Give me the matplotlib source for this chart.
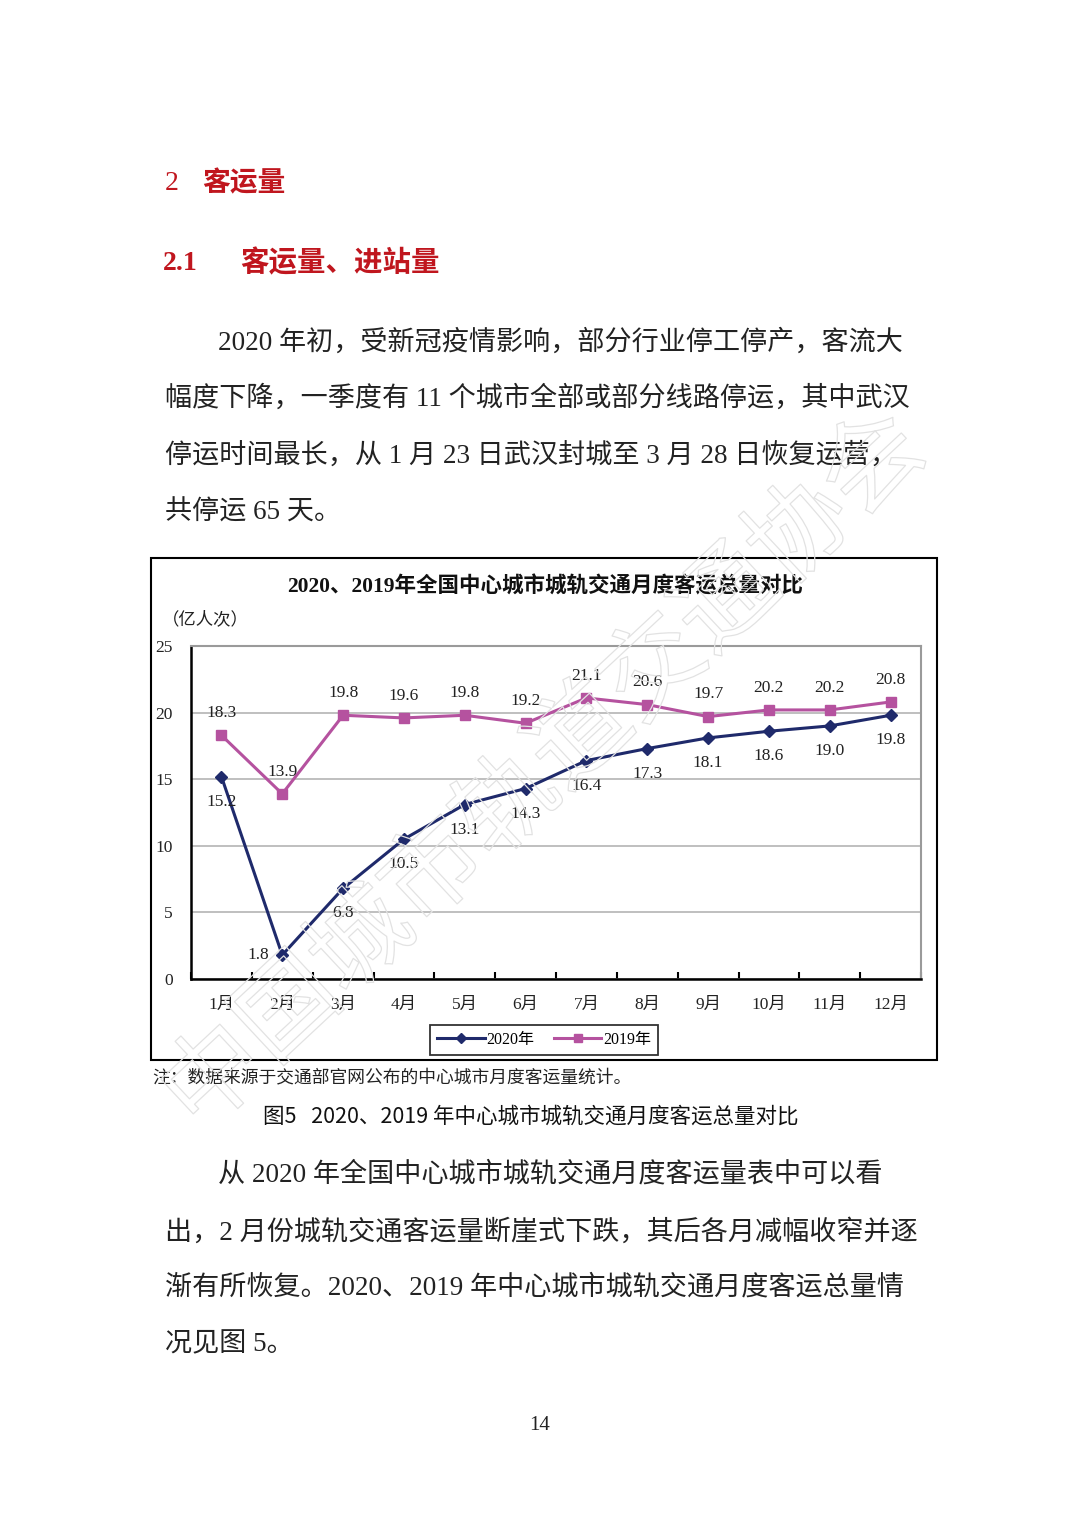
import matplotlib
matplotlib.use('Agg')
import matplotlib.pyplot as plt
import matplotlib.patheffects as pe
from matplotlib.patches import Rectangle
import numpy as np

# 月度客运总量（亿人次）
months = ['1月', '2月', '3月', '4月', '5月', '6月', '7月', '8月', '9月', '10月', '11月', '12月']
v2020 = [15.2, 1.8, 6.8, 10.5, 13.1, 14.3, 16.4, 17.3, 18.1, 18.6, 19.0, 19.8]
v2019 = [18.3, 13.9, 19.8, 19.6, 19.8, 19.2, 21.1, 20.6, 19.7, 20.2, 20.2, 20.8]
yticks = [0, 5, 10, 15, 20, 25]

para1 = ['2020 年初，受新冠疫情影响，部分行业停工停产，客流大',
         '幅度下降，一季度有 11 个城市全部或部分线路停运，其中武汉',
         '停运时间最长，从 1 月 23 日武汉封城至 3 月 28 日恢复运营，',
         '共停运 65 天。']
para2 = ['从 2020 年全国中心城市城轨交通月度客运量表中可以看',
         '出，2 月份城轨交通客运量断崖式下跌，其后各月减幅收窄并逐',
         '渐有所恢复。2020、2019 年中心城市城轨交通月度客运总量情',
         '况见图 5。']

W, H = 1080, 1527
SERIF = ['Liberation Serif', 'Noto Sans CJK SC']
CJK = ['Noto Sans CJK SC', 'DejaVu Sans']
RED = '#c0161e'
C20 = '#1f2a6b'
C19 = '#b5529f'


def fx(x):
    return x / W


def fy(y):
    return 1 - y / H


fig = plt.figure(figsize=(10.8, 15.27), dpi=100)

# 标题
fig.text(fx(165), fy(183), '2', family=SERIF, fontsize=20, color=RED, va='center')
fig.text(fx(202), fy(183), '客运量', family=CJK, fontsize=20, color=RED, va='center', weight='bold')
fig.text(fx(163), fy(263), '2.1', family=SERIF, fontsize=20, color=RED, va='center', weight='bold')
fig.text(fx(240), fy(263), '客运量、进站量', family=CJK, fontsize=20.5, color=RED, va='center', weight='bold')

# 正文
ys1 = [343, 399, 456, 513]
for i, line in enumerate(para1):
    x0 = 218 if i == 0 else 165
    fig.text(fx(x0), fy(ys1[i]), line, family=SERIF, fontsize=19.5, color='#222222', va='center')

ys2 = [1175, 1232, 1288, 1345]
for i, line in enumerate(para2):
    x0 = 218 if i == 0 else 165
    fig.text(fx(x0), fy(ys2[i]), line, family=SERIF, fontsize=19.5, color='#222222', va='center')

# 图框
fig.add_artist(Rectangle((fx(151), fy(1060)), (937 - 151) / W, (1060 - 558) / H,
                         transform=fig.transFigure, fill=False, ec='black', lw=1.5))
fig.text(fx(545), fy(587), '2020、2019年全国中心城市城轨交通月度客运总量对比', family=SERIF,
         fontsize=15.5, weight='bold', ha='center', va='center', color='#111111')
fig.text(fx(162), fy(620), '（亿人次）', family=SERIF, fontsize=12.5, ha='left', va='center', color='#222222')

ax = fig.add_axes([fx(191), fy(979), (921 - 191) / W, (979 - 646) / H])
x = np.arange(1, len(months) + 1)
ax.set_xlim(0.5, 12.5)
ax.set_ylim(0, 25)
ax.yaxis.grid(True, color='#b4b4b4', lw=1.2)
ax.set_axisbelow(True)
for s in ['left', 'bottom']:
    ax.spines[s].set_color('black')
    ax.spines[s].set_linewidth(1.8)
for s in ['top', 'right']:
    ax.spines[s].set_color('#9a9a9a')
    ax.spines[s].set_linewidth(1.5)

ax.plot(x, v2020, color=C20, lw=2.2, marker='D', ms=6.5, label='2020年', zorder=3)
ax.plot(x, v2019, color=C19, lw=2.2, marker='s', ms=7.5, label='2019年', zorder=3)

for xi, v in zip(x, v2019):
    ax.annotate(f'{v:.1f}', (xi, v), xytext=(0, 16), textcoords='offset points',
                ha='center', va='center', family=SERIF, fontsize=12.5, color='#222222')
for xi, v in zip(x, v2020):
    off = (-17, 0) if v == min(v2020) else (0, -18)
    ax.annotate(f'{v:.1f}', (xi, v), xytext=off, textcoords='offset points',
                ha='center', va='center', family=SERIF, fontsize=12.5, color='#222222')

ax.set_xticks(x)
ax.set_xticklabels(months, family=SERIF, fontsize=12.5, color='#222222')
ax.set_xticks(np.arange(0.5, 12.6, 1), minor=True)
ax.tick_params(axis='x', which='major', length=0, pad=13)
ax.tick_params(axis='x', which='minor', direction='in', length=5, width=1.5, color='black')
ax.set_yticks(yticks)
ax.set_yticklabels([str(t) for t in yticks], family=SERIF, fontsize=12.5, color='#222222')
ax.tick_params(axis='y', length=0, pad=13)

leg = ax.legend(loc='center', bbox_to_anchor=(fx(544), fy(1040)), bbox_transform=fig.transFigure,
                ncol=2, prop={'family': SERIF, 'size': 11.5}, frameon=True, fancybox=False,
                edgecolor='black', handlelength=3.0, columnspacing=1.2, handletextpad=0.1,
                borderpad=0.45, markerscale=0.8)
leg.get_frame().set_linewidth(1.3)

# 注释与图题
fig.text(fx(152), fy(1078), '注：数据来源于交通部官网公布的中心城市月度客运量统计。', family=SERIF,
         fontsize=12.8, va='center', color='#222222')
fig.text(fx(263), fy(1117), '图5   2020、2019 年中心城市城轨交通月度客运总量对比', family=CJK,
         fontsize=15.5, va='center', color='#111111')

# 页码
fig.text(fx(540), fy(1425), '14', family=SERIF, fontsize=15, ha='center', va='center', color='#222222')

# 水印
fig.text(fx(545), fy(772), '中国城市轨道交通协会', family=CJK, fontsize=72, rotation=43,
         ha='center', va='center', color='none',
         path_effects=[pe.Stroke(linewidth=0.9, foreground='#e2e2e2')])

fig.savefig('out.png', dpi=100, facecolor='white')
